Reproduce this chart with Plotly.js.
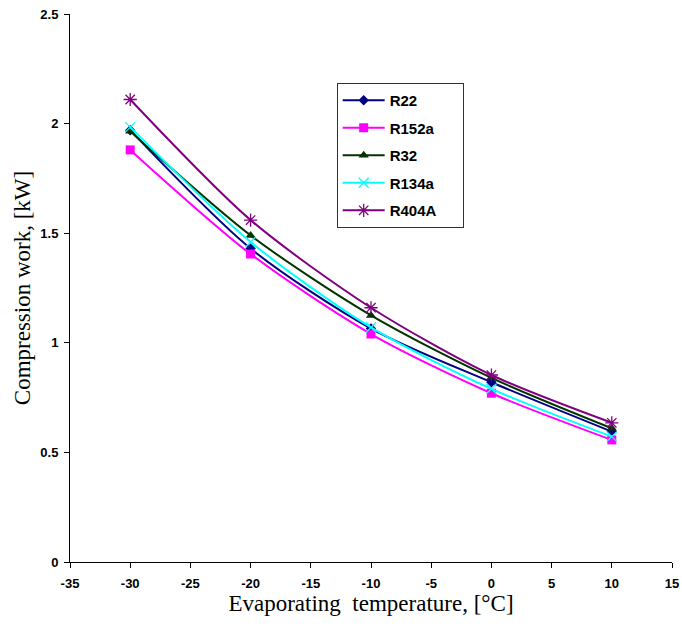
<!DOCTYPE html>
<html>
<head>
<meta charset="utf-8">
<script src="https://cdn.plot.ly/plotly-3.0.1.min.js"></script>
<style>html,body{margin:0;padding:0;background:#fff;}#chart{width:682px;height:636px;}</style>
</head>
<body>
<div id="chart"></div>
<script>
const temps = [-30, -20, -10, 0, 10];
const R22 = [1.97, 1.43, 1.065, 0.82, 0.595];
const R152a = [1.88, 1.405, 1.04, 0.77, 0.557];
const R32 = [1.965, 1.49, 1.125, 0.84, 0.61];
const R134a = [1.984, 1.46, 1.07, 0.79, 0.572];
const R404A = [2.11, 1.56, 1.16, 0.853, 0.635];
const xTicks = [-35, -30, -25, -20, -15, -10, -5, 0, 5, 10, 15];
const xTickText = ['-35', '-30', '-25', '-20', '-15', '-10', '-5', '0', '5', '10', '15'];
const yTicks = [0, 0.5, 1, 1.5, 2, 2.5];
const yTickText = ['0', '0.5', '1', '1.5', '2', '2.5'];

function tr(name, y, color, symbol, size, lineMarker) {
  const marker = {symbol: symbol, size: size, color: color};
  if (lineMarker) marker.line = {color: color, width: 1.3};
  return {x: temps, y: y, name: '<b>' + name + '</b>\u00a0\u00a0\u00a0\u00a0\u00a0', legendgroup: name, type: 'scatter', mode: 'lines+markers',
    line: {color: color, width: 2, shape: 'spline', smoothing: 0.8}, marker: marker};
}
const data = [
  tr('R22', R22, '#000080', 'diamond', 8),
  tr('R152a', R152a, '#FF00FF', 'square', 9),
  tr('R32', R32, '#003300', 'triangle-up', 9),
  tr('R134a', R134a, '#00FFFF', 'x-thin', 10, true),
  tr('R404A', R404A, '#800080', 'asterisk', 11, true)
];
const bold = a => a.map(s => '<b>' + s + '</b>');
const layout = {
  width: 682, height: 636,
  margin: {l: 70, r: 10, t: 14, b: 74},
  paper_bgcolor: '#fff', plot_bgcolor: '#fff',
  showlegend: true,
  legend: {x: 0.443, y: 0.874, xanchor: 'left', yanchor: 'top',
    bordercolor: '#333', borderwidth: 1, bgcolor: '#fff',
    font: {family: 'Liberation Sans, Arial', size: 15, color: '#000'},
    traceorder: 'grouped', tracegroupgap: 5, itemwidth: 42},
  xaxis: {range: [-35, 15], tickvals: xTicks, ticktext: bold(xTickText), ticks: 'outside', ticklen: 5, tickcolor: '#000',
    showline: true, linecolor: '#000', linewidth: 1, showgrid: false, zeroline: false, mirror: false,
    ticklabelstandoff: 4,
    tickfont: {family: 'Liberation Sans, Arial', size: 13, color: '#000'},
    title: {text: 'Evaporating\u00a0\u00a0temperature, [°C]', standoff: 0,
      font: {family: 'Liberation Serif, Times New Roman', size: 23, color: '#000'}}},
  yaxis: {range: [0, 2.5], tickvals: yTicks, ticktext: bold(yTickText), ticks: 'outside', ticklen: 5, tickcolor: '#000',
    showline: true, linecolor: '#000', linewidth: 1, showgrid: false, zeroline: false,
    ticklabelstandoff: 3,
    tickfont: {family: 'Liberation Sans, Arial', size: 13, color: '#000'},
    title: {text: 'Compression work, [kW]', standoff: 3,
      font: {family: 'Liberation Serif, Times New Roman', size: 23, color: '#000'}}}
};
Plotly.newPlot('chart', data, layout, {displayModeBar: false, staticPlot: true});
</script>
</body>
</html>
